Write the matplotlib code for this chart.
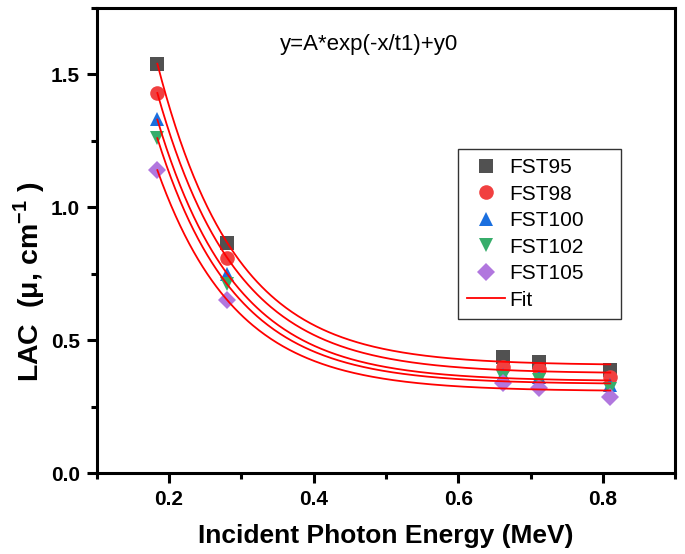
import numpy as np
import matplotlib
matplotlib.use("Agg")
import matplotlib.pyplot as plt
from matplotlib.ticker import MultipleLocator

# DATA -------------
energy = [0.184, 0.280, 0.662, 0.711, 0.810]
lac_fst95 = [1.54, 0.867, 0.437, 0.418, 0.388]
lac_fst98 = [1.43, 0.810, 0.400, 0.390, 0.360]
lac_fst100 = [1.33, 0.750, 0.370, 0.360, 0.330]
lac_fst102 = [1.26, 0.710, 0.360, 0.350, 0.315]
lac_fst105 = [1.14, 0.650, 0.340, 0.320, 0.285]
names = ["FST95", "FST98", "FST100", "FST102", "FST105"]

# STYLE ------------
colors = ["#515151", "#F14040", "#1A6FDF", "#37AD6B", "#B177DE"]
markers = ["s", "o", "^", "v", "D"]
sizes = [9.5, 10.5, 10.5, 10.5, 9]

plt.rcParams["font.family"] = ["Liberation Sans", "DejaVu Sans"]
plt.rcParams["mathtext.fontset"] = "custom"
plt.rcParams["mathtext.rm"] = "Liberation Sans"
plt.rcParams["mathtext.bf"] = "Liberation Sans:bold"


def exp_fit(x, y):
    # y = A*exp(-x/t1) + y0, scan t1 and solve A, y0 linearly
    x = np.asarray(x)
    y = np.asarray(y)
    best = None
    for t1 in np.linspace(0.02, 1.0, 4000):
        M = np.column_stack([np.exp(-x / t1), np.ones_like(x)])
        coef, *_ = np.linalg.lstsq(M, y, rcond=None)
        err = np.sum((M @ coef - y) ** 2)
        if best is None or err < best[0]:
            best = (err, coef[0], t1, coef[1])
    return best[1:]


fig = plt.figure(figsize=(6.85, 5.54), dpi=100)
ax = fig.add_axes([0.141, 0.146, 0.845, 0.840])

series = [lac_fst95, lac_fst98, lac_fst100, lac_fst102, lac_fst105]
xf = np.linspace(min(energy), max(energy), 300)
for i, ys in enumerate(series):
    ax.plot(energy, ys, linestyle="none", marker=markers[i], color=colors[i],
            markersize=sizes[i], markeredgewidth=0, label=names[i], zorder=2)
for i, ys in enumerate(series):
    A, t1, y0 = exp_fit(energy, ys)
    ax.plot(xf, A * np.exp(-xf / t1) + y0, color="#FF0000", linewidth=1.3,
            label="Fit" if i == 0 else None, zorder=3)

ax.set_xlim(0.1, 0.9)
ax.set_ylim(0.0, 1.75)
ax.xaxis.set_major_locator(MultipleLocator(0.2))
ax.xaxis.set_minor_locator(MultipleLocator(0.1))
ax.yaxis.set_major_locator(MultipleLocator(0.5))
ax.yaxis.set_minor_locator(MultipleLocator(0.25))
ax.tick_params(which="major", direction="out", length=7, width=2.2,
               labelsize=15, pad=5)
ax.tick_params(which="minor", direction="out", length=4, width=2.2)
for lab in ax.get_xticklabels() + ax.get_yticklabels():
    lab.set_fontweight("bold")
for sp in ax.spines.values():
    sp.set_linewidth(2.2)

ax.set_xlabel("Incident Photon Energy (MeV)", fontsize=19,
              fontweight="bold", labelpad=11)
ax.set_ylabel("LAC  (μ, cm$^{\\mathbf{-1}}$ )", fontsize=20.5,
              fontweight="bold")
ax.yaxis.set_label_coords(-0.086, 0.41)

ax.text(0.47, 0.92, "y=A*exp(-x/t1)+y0", transform=ax.transAxes,
        ha="center", va="center", fontsize=16)

leg = ax.legend(loc="upper left", bbox_to_anchor=(0.624, 0.697, 0.2815, 0.0),
                mode="expand", fontsize=15, frameon=True, fancybox=False,
                edgecolor="black", handlelength=1.8, borderpad=0.45,
                labelspacing=0.36, handletextpad=0.2, borderaxespad=0)
leg.get_frame().set_linewidth(1.0)

fig.savefig("out.png", dpi=100)
